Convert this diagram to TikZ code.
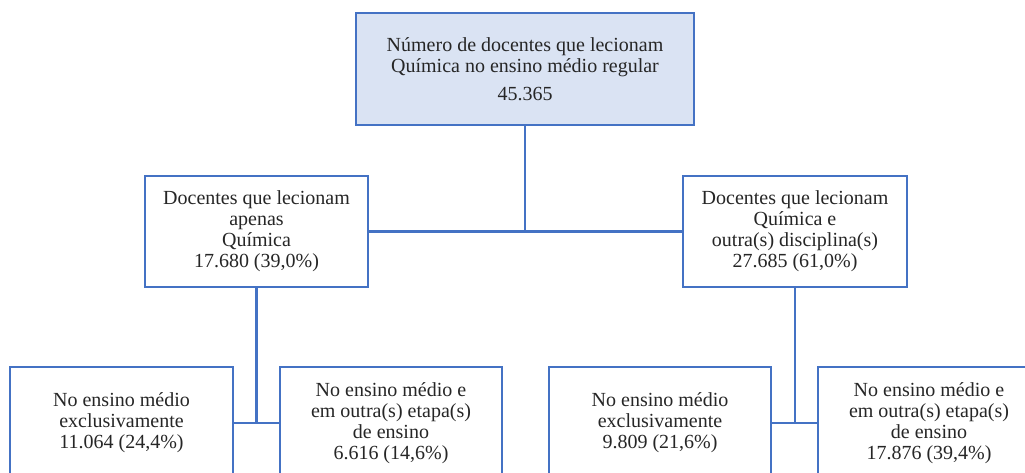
\documentclass[tikz,border=0pt]{standalone}
\usepackage{fontspec}
\setmainfont{Liberation Serif}
\definecolor{bord}{HTML}{4472C4}
\definecolor{fillb}{HTML}{DAE3F3}
\definecolor{txt}{HTML}{262626}
\begin{document}
\begin{tikzpicture}[x=1pt,y=-1pt,
  box/.style={draw=bord, line width=2.2pt, fill=white, align=center, inner sep=0pt, text=txt, font=\fontsize{20}{21}\selectfont},
  conn/.style={draw=bord, line width=2.2pt}]
\useasboundingbox (0,0) rectangle (1025,472);
\clip (0,0) rectangle (1025,472);
\node[box, fill=fillb, minimum width=338pt, minimum height=112pt] (top) at (525,69) {Número de docentes que lecionam\\Química no ensino médio regular\\[7pt]45.365};
\node[box, minimum width=223pt, minimum height=111pt] (lm) at (256.5,231.5) {Docentes que lecionam\\apenas\\Química\\17.680 (39,0\%)};
\node[box, minimum width=224pt, minimum height=111pt] (rm) at (795,231.5) {Docentes que lecionam\\Química e\\outra(s) disciplina(s)\\27.685 (61,0\%)};
\node[box, minimum width=223pt, minimum height=112pt] (b1) at (121.5,423) {No ensino médio\\exclusivamente\\11.064 (24,4\%)};
\node[box, minimum width=222pt, minimum height=112pt] (b2) at (391,423) {No ensino médio e\\em outra(s) etapa(s)\\de ensino\\6.616 (14,6\%)};
\node[box, minimum width=222pt, minimum height=112pt] (b3) at (660,423) {No ensino médio\\exclusivamente\\9.809 (21,6\%)};
\node[box, minimum width=222pt, minimum height=112pt] (b4) at (929,423) {No ensino médio e\\em outra(s) etapa(s)\\de ensino\\17.876 (39,4\%)};
\coordinate (j) at (top.south |- lm.east);
\draw[conn] (top.south) -- (j);
\draw[conn] (lm.east) -- (rm.west);
\coordinate (jl) at (lm.south |- b1.east);
\draw[conn] (lm.south) -- (jl);
\draw[conn] (b1.east) -- (b2.west);
\coordinate (jr) at (rm.south |- b3.east);
\draw[conn] (rm.south) -- (jr);
\draw[conn] (b3.east) -- (b4.west);
\end{tikzpicture}
\end{document}
